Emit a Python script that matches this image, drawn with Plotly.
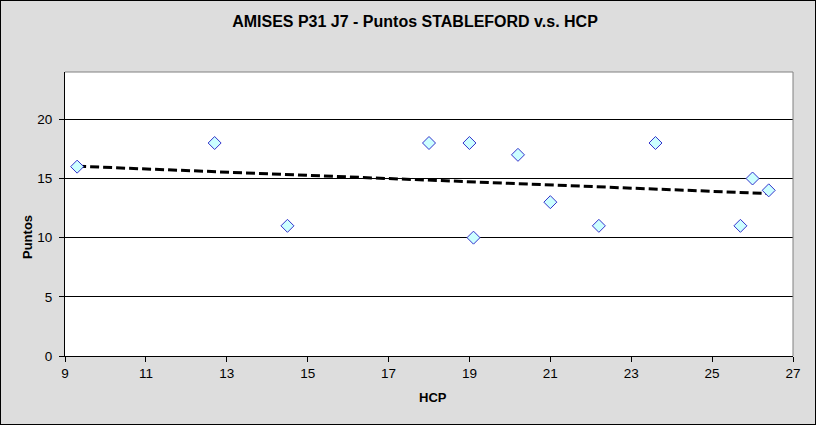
import numpy as np
import plotly.graph_objects as go

hcp = [9.3, 12.7, 14.5, 18.0, 19.0, 19.1, 20.2, 21.0, 22.2, 23.6, 25.7, 26.0, 26.4]
puntos = [16, 18, 11, 18, 18, 10, 17, 13, 11, 18, 11, 15, 14]

title_text = "AMISES P31 J7 - Puntos STABLEFORD v.s. HCP"
x_title = "HCP"
y_title = "Puntos"
x_ticks = list(range(9, 28, 2))
y_ticks = [0, 5, 10, 15, 20]

# linear trendline derived from the data
slope, intercept = np.polyfit(hcp, puntos, 1)
trend_x = [min(hcp), max(hcp)]
trend_y = [slope * v + intercept for v in trend_x]

W, H = 816, 425
ml, mr, mt, mb = 65, 23, 72, 69
pw, ph = W - ml - mr, H - mt - mb

fig = go.Figure()
fig.add_trace(go.Scatter(
    x=trend_x, y=trend_y, mode="lines",
    line=dict(color="black", width=3, dash="9px,4px"),
    hoverinfo="skip", showlegend=False,
))
fig.add_trace(go.Scatter(
    x=hcp, y=puntos, mode="markers",
    marker=dict(symbol="diamond", size=10, color="#CCFFFF",
                line=dict(color="#3333CC", width=1)),
    showlegend=False,
))

font_family = "Liberation Sans, Arial, sans-serif"
fig.update_layout(
    width=W, height=H,
    margin=dict(l=ml, r=mr, t=mt, b=mb, pad=0),
    paper_bgcolor="#DDDDDD",
    plot_bgcolor="white",
    font=dict(family=font_family, size=13.5, color="black"),
    title=dict(text="<b>" + title_text + "</b>", x=415 / W, xanchor="center",
               y=1 - 21 / H, yanchor="middle",
               font=dict(size=16, color="black", family=font_family)),
    xaxis=dict(
        range=[9, 27], tickvals=x_ticks, ticktext=[str(v) for v in x_ticks],
        showgrid=False, zeroline=False,
        showline=True, linecolor="black", linewidth=1,
        ticks="outside", ticklen=5, tickcolor="black", tickwidth=1,
        mirror=False,
    ),
    yaxis=dict(
        range=[0, 24], tickvals=y_ticks, ticktext=[str(v) for v in y_ticks],
        showgrid=True, gridcolor="black", gridwidth=1, zeroline=False,
        showline=True, linecolor="black", linewidth=1,
        ticks="outside", ticklen=5, tickcolor="black", tickwidth=1,
        ticklabelstandoff=4,
    ),
    annotations=[
        dict(text="<b>" + x_title + "</b>", xref="paper", yref="paper",
             x=(433 - ml) / pw, y=(356 - 397) / ph, xanchor="center",
             yanchor="middle", showarrow=False, font=dict(size=13)),
        dict(text="<b>" + y_title + "</b>", xref="paper", yref="paper",
             x=(27 - ml) / pw, y=(356 - 237) / ph, xanchor="center",
             yanchor="middle", textangle=-90, showarrow=False,
             font=dict(size=13)),
    ],
    shapes=[
        # gray border of plot area (top & right)
        dict(type="line", xref="paper", yref="paper", x0=0, x1=1, y0=1, y1=1,
             line=dict(color="#808080", width=1)),
        dict(type="line", xref="paper", yref="paper", x0=1, x1=1, y0=0, y1=1,
             line=dict(color="#808080", width=1)),
        # outer chart border
        dict(type="rect", xref="paper", yref="paper",
             x0=-ml / pw, x1=1 + mr / pw, y0=-mb / ph, y1=1 + mt / ph,
             line=dict(color="black", width=2), layer="above"),
    ],
)

fig.write_html("out.html", config={"displayModeBar": False},
               post_script="document.body.style.margin='0';")
